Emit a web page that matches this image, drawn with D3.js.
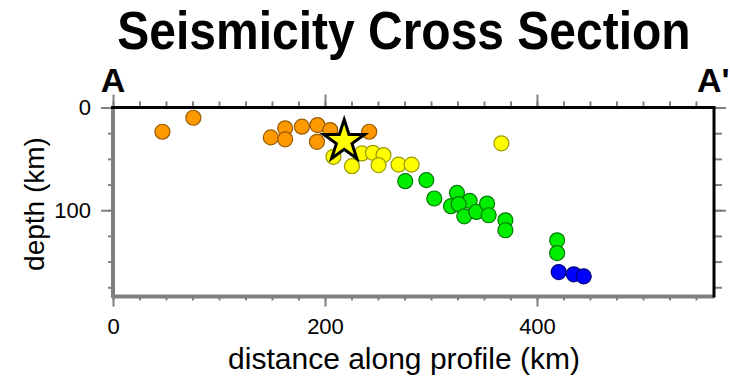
<!DOCTYPE html>
<html><head><meta charset="utf-8">
<script src="https://cdn.jsdelivr.net/npm/d3@7/dist/d3.min.js"></script>
<style>
html,body{margin:0;padding:0;background:#fff;}
svg{display:block;font-family:"Liberation Sans",Arial,Helvetica,sans-serif;}
</style></head>
<body><svg id="chart" width="730" height="380"></svg>
<script>
// ---- data (distance along profile km, depth km) ----
const orangeDist  = [46.6, 75.8, 148.9, 162.4, 162.4, 178.2, 192.9, 192.4, 204.9, 241.7];
const orangeDepth = [23.6, 10.0, 29.1, 20.3, 31.0, 18.7, 17.1, 33.4, 22.0, 23.6];
const yellowDist  = [208.0, 225.4, 234.8, 245.2, 255.2, 250.5, 269.4, 281.7, 366.4];
const yellowDepth = [48.0, 57.1, 44.7, 44.1, 46.3, 56.1, 55.6, 55.6, 34.9];
const greenDist   = [275.7, 295.6, 303.1, 324.5, 336.5, 318.9, 326.1, 331.4, 342.8, 352.9, 354.4, 370.2, 370.2, 419.0, 419.0];
const greenDepth  = [71.7, 70.7, 88.6, 83.1, 90.9, 96.1, 94.1, 105.9, 101.7, 93.5, 104.9, 109.8, 119.5, 129.3, 141.7];
const blueDist    = [420.5, 434.7, 444.1];
const blueDepth   = [160.2, 162.4, 164.4];
const mainshock   = {dist: 218.1, depth: 32.7};
const xMajorTicks = [0, 200, 400];
const yMajorTicks = [0, 100];
const xDomain = [0, 567];
const yDomain = [0, 184];

const seriesList = [
  {dist: orangeDist, depth: orangeDepth, fill: "#ff9900", stroke: "#9a5a00"},
  {dist: yellowDist, depth: yellowDepth, fill: "#ffff00", stroke: "#9a9a00"},
  {dist: greenDist,  depth: greenDepth,  fill: "#00ee00", stroke: "#007a00"},
  {dist: blueDist,   depth: blueDepth,   fill: "#0000ff", stroke: "#00007a"}
];

const svg = d3.select("#chart");
const L = 113, R = 714, T = 107.5, B = 296.5;
const x = d3.scaleLinear().domain(xDomain).range([L, R]);
const y = d3.scaleLinear().domain(yDomain).range([T, B]);

// title
svg.append("text").attr("transform", "translate(404,49) scale(1,1.1)").attr("text-anchor", "middle")
  .attr("font-size", 48).attr("font-weight", "bold").text("Seismicity Cross Section");

// A / A' labels
svg.append("text").attr("x", x(0)).attr("y", 92).attr("text-anchor", "middle")
  .attr("font-size", 34).attr("font-weight", "bold").text("A");
svg.append("text").attr("x", x(xDomain[1]) - 17).attr("y", 92).attr("text-anchor", "start")
  .attr("font-size", 34).attr("font-weight", "bold").text("A'");

const tickColor = "#808080";
const xMinor = d3.range(0, xDomain[1], 25);
const yMinor = d3.range(0, yDomain[1], 25);

function styleAxis(g){
  g.select(".domain").remove();
  g.selectAll(".tick line").attr("stroke", tickColor).attr("stroke-width", 2);
  g.selectAll(".tick text").attr("fill", "#000").attr("font-family", "Liberation Sans, Arial, sans-serif");
}

// minor ticks
svg.append("g").attr("transform", `translate(0,${B})`)
  .call(d3.axisBottom(x).tickValues(xMinor).tickSize(4).tickFormat("")).call(styleAxis);
svg.append("g").attr("transform", `translate(0,${T})`)
  .call(d3.axisTop(x).tickValues(xMinor).tickSize(6).tickFormat("")).call(styleAxis);
svg.append("g").attr("transform", `translate(${L},0)`)
  .call(d3.axisLeft(y).tickValues(yMinor).tickSize(5).tickFormat("")).call(styleAxis);
svg.append("g").attr("transform", `translate(${R},0)`)
  .call(d3.axisRight(y).tickValues(yMinor).tickSize(8).tickFormat("")).call(styleAxis);

// major ticks
svg.append("g").attr("transform", `translate(0,${B})`)
  .call(d3.axisBottom(x).tickValues(xMajorTicks).tickSize(10).tickPadding(12).tickFormat(d3.format("d")))
  .call(styleAxis).call(g => g.selectAll(".tick text").attr("font-size", 22));
svg.append("g").attr("transform", `translate(0,${T})`)
  .call(d3.axisTop(x).tickValues(xMajorTicks).tickSize(13).tickFormat("")).call(styleAxis);
svg.append("g").attr("transform", `translate(${L},0)`)
  .call(d3.axisLeft(y).tickValues(yMajorTicks).tickSize(12).tickPadding(10).tickFormat(d3.format("d")))
  .call(styleAxis).call(g => g.selectAll(".tick text").attr("font-size", 22));
svg.append("g").attr("transform", `translate(${R},0)`)
  .call(d3.axisRight(y).tickValues(yMajorTicks).tickSize(12).tickFormat("")).call(styleAxis);

// frame
svg.append("line").attr("x1", L).attr("x2", L).attr("y1", T).attr("y2", B + 1.5)
  .attr("stroke", "#808080").attr("stroke-width", 4);
svg.append("line").attr("x1", L).attr("x2", R).attr("y1", B).attr("y2", B)
  .attr("stroke", "#808080").attr("stroke-width", 4);
svg.append("line").attr("x1", L - 2).attr("x2", R + 1.5).attr("y1", T).attr("y2", T)
  .attr("stroke", "#000").attr("stroke-width", 3);
svg.append("line").attr("x1", R).attr("x2", R).attr("y1", T).attr("y2", B + 1)
  .attr("stroke", "#000").attr("stroke-width", 3);

// axis titles
svg.append("text").attr("x", 404).attr("y", 369).attr("text-anchor", "middle")
  .attr("font-size", 30).attr("fill", "#000").text("distance along profile (km)");
svg.append("text").attr("transform", "translate(44,204) rotate(-90)").attr("text-anchor", "middle")
  .attr("font-size", 28).attr("fill", "#000").text("depth (km)");

// events
const plot = svg.append("g");
seriesList.forEach(s => {
  plot.selectAll(null).data(d3.zip(s.dist, s.depth)).join("circle")
    .attr("cx", d => x(d[0])).attr("cy", d => y(d[1])).attr("r", 7.5)
    .attr("fill", s.fill).attr("stroke", s.stroke).attr("stroke-width", 1.2);
});

// mainshock star
plot.append("path")
  .attr("d", d3.symbol(d3.symbolStar, 519)())
  .attr("transform", `translate(${x(mainshock.dist)},${y(mainshock.depth)})`)
  .attr("fill", "#ffff00").attr("stroke", "#000").attr("stroke-width", 3).attr("stroke-linejoin", "miter");
</script></body></html>
